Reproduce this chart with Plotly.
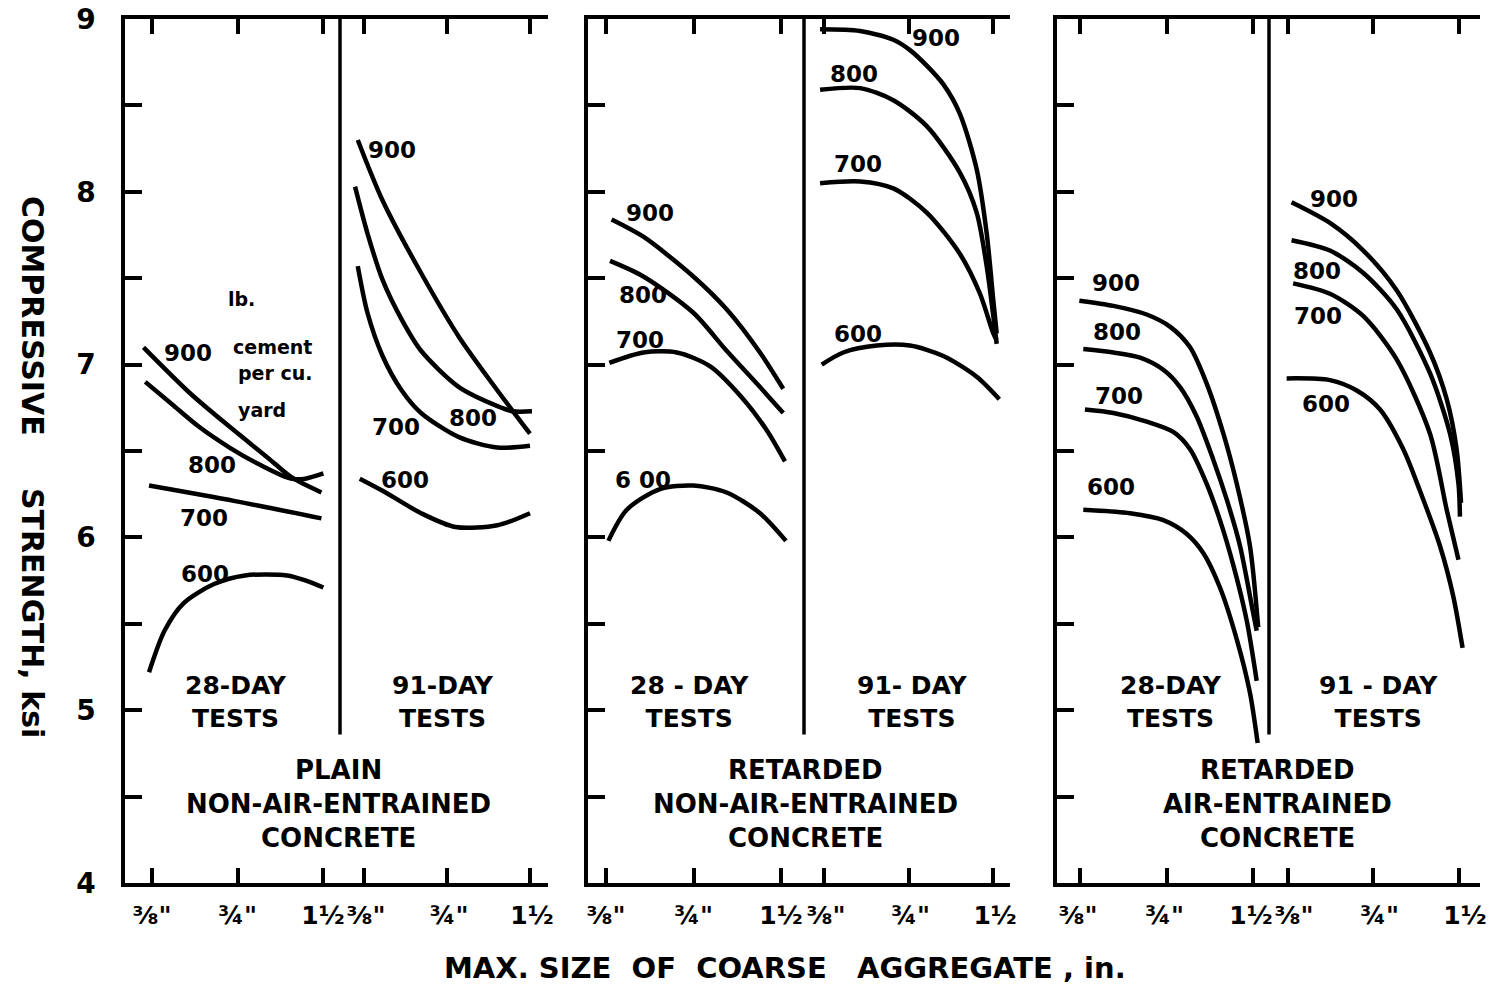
import math
import plotly.graph_objects as go

# ---- axis ticks -------------------------------------------------------
SIZE_TICKS = [0.375, 0.75, 1.5]
SIZE_TICK_TEXT = ['⅜"', '¾"', '1½']
KSI_TICKS = [4, 4.5, 5, 5.5, 6, 6.5, 7, 7.5, 8, 8.5, 9]
KSI_TICK_TEXT = ['4', '', '5', '', '6', '', '7', '', '8', '', '9']

# ---- plain non-air-entrained, 28-day ---------------------------------
plain28_900_x = [0.350, 0.514, 0.704, 0.961, 1.157, 1.481]
plain28_900_y = [7.10, 6.83, 6.64, 6.46, 6.35, 6.26]
plain28_800_x = [0.355, 0.441, 0.549, 0.703, 0.900, 1.157, 1.300, 1.505]
plain28_800_y = [6.90, 6.77, 6.64, 6.52, 6.42, 6.34, 6.34, 6.37]
plain28_700_x = [0.366, 0.735, 1.481]
plain28_700_y = [6.30, 6.21, 6.11]
plain28_600_x = [0.366, 0.415, 0.485, 0.620, 0.797, 1.120, 1.307, 1.505]
plain28_600_y = [5.22, 5.46, 5.62, 5.73, 5.78, 5.78, 5.75, 5.71]

# ---- plain non-air-entrained, 91-day ---------------------------------
plain91_900_x = [0.356, 0.438, 0.604, 0.829, 1.143, 1.500]
plain91_900_y = [8.30, 7.95, 7.53, 7.16, 6.85, 6.60]
plain91_800_x = [0.348, 0.386, 0.438, 0.514, 0.604, 0.829, 1.143, 1.300, 1.525]
plain91_800_y = [8.03, 7.76, 7.49, 7.26, 7.08, 6.87, 6.76, 6.73, 6.73]
plain91_700_x = [0.356, 0.386, 0.438, 0.514, 0.604, 0.829, 1.143, 1.500]
plain91_700_y = [7.57, 7.30, 7.05, 6.85, 6.72, 6.58, 6.52, 6.53]
plain91_600_x = [0.362, 0.438, 0.604, 0.805, 1.143, 1.500]
plain91_600_y = [6.34, 6.27, 6.14, 6.06, 6.07, 6.14]

# ---- retarded non-air-entrained, 28-day ------------------------------
retnon28_900_x = [0.392, 0.504, 0.749, 0.975, 1.270, 1.527]
retnon28_900_y = [7.84, 7.74, 7.51, 7.32, 7.07, 6.86]
retnon28_800_x = [0.387, 0.504, 0.749, 0.975, 1.270, 1.527]
retnon28_800_y = [7.60, 7.51, 7.30, 7.08, 6.87, 6.72]
retnon28_700_x = [0.385, 0.504, 0.657, 0.856, 1.113, 1.340, 1.548]
retnon28_700_y = [7.01, 7.07, 7.07, 6.99, 6.80, 6.62, 6.44]
retnon28_600_x = [0.382, 0.442, 0.575, 0.749, 0.975, 1.270, 1.560]
retnon28_600_y = [5.98, 6.16, 6.28, 6.30, 6.26, 6.14, 5.98]

# ---- retarded non-air-entrained, 91-day ------------------------------
retnon91_900_x = [0.363, 0.504, 0.662, 0.759, 0.871, 1.000, 1.144, 1.312, 1.424, 1.504, 1.546]
retnon91_900_y = [8.94, 8.93, 8.88, 8.82, 8.73, 8.62, 8.45, 8.13, 7.76, 7.37, 7.18]
retnon91_800_x = [0.363, 0.504, 0.662, 0.871, 1.144, 1.312, 1.424, 1.504, 1.546]
retnon91_800_y = [8.59, 8.60, 8.53, 8.38, 8.11, 7.88, 7.57, 7.28, 7.12]
retnon91_700_x = [0.363, 0.504, 0.662, 0.871, 1.144, 1.348, 1.504, 1.546]
retnon91_700_y = [8.05, 8.06, 8.02, 7.88, 7.64, 7.41, 7.18, 7.14]
retnon91_600_x = [0.368, 0.439, 0.578, 0.759, 0.998, 1.312, 1.580]
retnon91_600_y = [7.00, 7.07, 7.11, 7.11, 7.05, 6.93, 6.80]

# ---- retarded air-entrained, 28-day ----------------------------------
retair28_900_x = [0.373, 0.490, 0.640, 0.771, 0.906, 1.035, 1.183, 1.317, 1.464, 1.564]
retair28_900_y = [7.37, 7.34, 7.29, 7.22, 7.10, 6.89, 6.60, 6.31, 5.95, 5.48]
retair28_800_x = [0.385, 0.490, 0.607, 0.731, 0.836, 0.955, 1.091, 1.215, 1.352, 1.503, 1.545]
retair28_800_y = [7.09, 7.07, 7.04, 6.97, 6.87, 6.70, 6.45, 6.22, 5.95, 5.56, 5.46]
retair28_700_x = [0.390, 0.490, 0.640, 0.792, 0.906, 1.035, 1.151, 1.281, 1.426, 1.545]
retair28_700_y = [6.74, 6.72, 6.67, 6.61, 6.51, 6.31, 6.10, 5.84, 5.52, 5.17]
retair28_600_x = [0.385, 0.560, 0.731, 0.882, 1.007, 1.151, 1.317, 1.464, 1.557]
retair28_600_y = [6.16, 6.14, 6.10, 6.02, 5.91, 5.71, 5.41, 5.10, 4.81]

# ---- retarded air-entrained, 91-day ----------------------------------
retair91_900_x = [0.386, 0.527, 0.691, 0.905, 1.186, 1.358, 1.472, 1.525]
retair91_900_y = [7.94, 7.82, 7.66, 7.43, 7.07, 6.80, 6.51, 6.20]
retair91_800_x = [0.386, 0.527, 0.691, 0.905, 1.186, 1.395, 1.494, 1.512]
retair91_800_y = [7.72, 7.66, 7.53, 7.32, 6.95, 6.60, 6.31, 6.12]
retair91_700_x = [0.391, 0.527, 0.691, 0.905, 1.186, 1.358, 1.494]
retair91_700_y = [7.47, 7.41, 7.28, 7.03, 6.60, 6.16, 5.87]
retair91_600_x = [0.371, 0.527, 0.655, 0.791, 0.955, 1.093, 1.286, 1.432, 1.545]
retair91_600_y = [6.92, 6.91, 6.85, 6.74, 6.51, 6.27, 5.95, 5.66, 5.36]

# ---- curve labels: (half, text, size in., strength ksi) ---------------
CURVE_LABELS = [
    (0, '900', 0.502, 7.07), (0, '800', 0.610, 6.42), (0, '700', 0.572, 6.11), (0, '600', 0.576, 5.79),
    (1, '900', 0.474, 8.24), (1, '800', 0.932, 6.69), (1, '700', 0.490, 6.64), (1, '600', 0.528, 6.33),
    (2, '900', 0.531, 7.88), (2, '800', 0.503, 7.40), (2, '700', 0.491, 7.14), (2, '6 00', 0.503, 6.33),
    (3, '900', 0.940, 8.89), (3, '800', 0.480, 8.68), (3, '700', 0.495, 8.16), (3, '600', 0.495, 7.18),
    (4, '900', 0.500, 7.47), (4, '800', 0.504, 7.19), (4, '700', 0.513, 6.82), (4, '600', 0.481, 6.29),
    (5, '900', 0.544, 7.96), (5, '800', 0.474, 7.54), (5, '700', 0.478, 7.28), (5, '600', 0.510, 6.77),
]
UNIT_NOTE = [('lb.', 0.775, 7.38), ('cement', 1.000, 7.10), ('per cu.', 1.017, 6.95), ('yard', 0.915, 6.74)]

AGE_TEXT = ['28-DAY<br>TESTS', '91-DAY<br>TESTS', '28 - DAY<br>TESTS',
            '91- DAY<br>TESTS', '28-DAY<br>TESTS', '91 - DAY<br>TESTS']
CONCRETE_TEXT = [['PLAIN', 'NON-AIR-ENTRAINED', 'CONCRETE'],
                 ['RETARDED', 'NON-AIR-ENTRAINED', 'CONCRETE'],
                 ['RETARDED', 'AIR-ENTRAINED', 'CONCRETE']]

HALVES = [
    [(plain28_900_x, plain28_900_y), (plain28_800_x, plain28_800_y),
     (plain28_700_x, plain28_700_y), (plain28_600_x, plain28_600_y)],
    [(plain91_900_x, plain91_900_y), (plain91_800_x, plain91_800_y),
     (plain91_700_x, plain91_700_y), (plain91_600_x, plain91_600_y)],
    [(retnon28_900_x, retnon28_900_y), (retnon28_800_x, retnon28_800_y),
     (retnon28_700_x, retnon28_700_y), (retnon28_600_x, retnon28_600_y)],
    [(retnon91_900_x, retnon91_900_y), (retnon91_800_x, retnon91_800_y),
     (retnon91_700_x, retnon91_700_y), (retnon91_600_x, retnon91_600_y)],
    [(retair28_900_x, retair28_900_y), (retair28_800_x, retair28_800_y),
     (retair28_700_x, retair28_700_y), (retair28_600_x, retair28_600_y)],
    [(retair91_900_x, retair91_900_y), (retair91_800_x, retair91_800_y),
     (retair91_700_x, retair91_700_y), (retair91_600_x, retair91_600_y)],
]

# ---- layout geometry --------------------------------------------------
W, H = 1499, 992
ML, MR, MT, MB = 125, 19, 19, 109
PW = W - ML - MR
PH = H - MT - MB
# pixel edges of each half-panel
HALF_EDGES = [(125, 340), (340, 548), (588, 804), (804, 1010), (1057, 1269), (1269, 1480)]
# visible extent of each half in octaves from the 3/8 in. tick
HALF_OCT = [(-0.316, 2.199), (-0.289, 2.217), (-0.206, 2.263),
            (-0.237, 2.201), (-0.266, 2.185), (-0.222, 2.246)]
# small sideways nudge of the size labels where two halves meet
LABEL_SHIFT = [0, 2, 0, 2, -2, 6]
AGE_X = [0.516, 0.495, 0.472, 0.529, 0.538, 0.517]
CONCRETE_X = [338, 805, 1277]
CONCRETE_Y = [4.654, 4.457, 4.26]

FONT = 'DejaVu Sans'
INK = 'black'
L38 = math.log10(0.375)
L2 = math.log10(2)


def dom(px0, px1):
    return [(px0 - ML) / PW, (px1 - ML) / PW]


def bold(size):
    return dict(family=FONT, size=size, color=INK, weight='bold')


fig = go.Figure()
for i, curves in enumerate(HALVES):
    xa = 'x' if i == 0 else f'x{i + 1}'
    ya = 'y' if i < 2 else f'y{i // 2 + 1}'
    for cx, cy in curves:
        fig.add_trace(go.Scatter(x=cx, y=cy, xaxis=xa, yaxis=ya, mode='lines',
                                 line=dict(color=INK, width=4.5, shape='spline', smoothing=0.8),
                                 hoverinfo='skip', showlegend=False))

layout = dict(width=W, height=H, margin=dict(l=ML, r=MR, t=MT, b=MB, autoexpand=False),
              paper_bgcolor='white', plot_bgcolor='white', showlegend=False,
              font=bold(22))

axis_common = dict(showgrid=False, zeroline=False, showline=True, linecolor=INK,
                   linewidth=3.5, ticks='inside', tickcolor=INK, tickwidth=3.5,
                   automargin=False)

for i in range(6):
    key = 'xaxis' if i == 0 else f'xaxis{i + 1}'
    ya = 'y' if i < 2 else f'y{i // 2 + 1}'
    o0, o1 = HALF_OCT[i]
    layout[key] = dict(axis_common, type='log', domain=dom(*HALF_EDGES[i]), anchor=ya,
                       range=[L38 + o0 * L2, L38 + o1 * L2], mirror='ticks', ticklen=15,
                       tickmode='array', tickvals=SIZE_TICKS, ticktext=SIZE_TICK_TEXT,
                       tickfont=bold(25), ticklabelstandoff=7,
                       ticklabelshift=LABEL_SHIFT[i])

for p in range(3):
    left = 'yaxis' if p == 0 else f'yaxis{p + 1}'
    layout[left] = dict(axis_common, range=[4, 9], domain=[0, 1],
                        anchor='x' if p == 0 else f'x{2 * p + 1}', side='left', ticklen=17,
                        tickmode='array', tickvals=KSI_TICKS, ticktext=KSI_TICK_TEXT,
                        showticklabels=(p == 0), ticklabelstandoff=20, tickfont=bold(28))
    layout[f'yaxis{p + 4}'] = dict(axis_common, range=[4, 9], domain=[0, 1],
                                   overlaying='y' if p == 0 else f'y{p + 1}',
                                   anchor=f'x{2 * p + 2}', side='right', ticklen=17,
                                   tickmode='array', tickvals=KSI_TICKS, showticklabels=False)

shapes = []
annotations = []
for p in range(3):
    ya = 'y' if p == 0 else f'y{p + 1}'
    # divider between the 28-day and 91-day halves
    shapes.append(dict(type='line', xref=f'x{2 * p + 2} domain', yref=ya,
                       x0=0, x1=0, y0=4.86, y1=9, line=dict(color=INK, width=3.5)))
    for line_txt, ly in zip(CONCRETE_TEXT[p], CONCRETE_Y):
        annotations.append(dict(text=line_txt, xref='paper', yref=ya,
                                x=(CONCRETE_X[p] - ML) / PW, y=ly, showarrow=False,
                                xanchor='center', yanchor='middle', font=bold(26)))

for i in range(6):
    xa = 'x' if i == 0 else f'x{i + 1}'
    ya = 'y' if i < 2 else f'y{i // 2 + 1}'
    annotations.append(dict(text=AGE_TEXT[i], xref=f'{xa} domain', yref=ya,
                            x=AGE_X[i], y=5.05, showarrow=False,
                            xanchor='center', yanchor='middle', font=bold(25)))

for half, txt, sx, sy in CURVE_LABELS:
    xa = 'x' if half == 0 else f'x{half + 1}'
    ya = 'y' if half < 2 else f'y{half // 2 + 1}'
    annotations.append(dict(text=txt, xref=xa, yref=ya, x=math.log10(sx), y=sy,
                            showarrow=False, xanchor='center', yanchor='middle',
                            font=bold(23)))

for txt, sx, sy in UNIT_NOTE:
    annotations.append(dict(text=txt, xref='x', yref='y', x=math.log10(sx), y=sy,
                            showarrow=False, xanchor='center', yanchor='middle',
                            font=bold(19)))

annotations.append(dict(text='COMPRESSIVE     STRENGTH, ksi', xref='paper', yref='paper',
                        x=(33 - ML) / PW, y=(H - MB - 467) / PH, textangle=90,
                        showarrow=False, xanchor='center', yanchor='middle', font=bold(30)))
annotations.append(dict(text='MAX. SIZE  OF  COARSE   AGGREGATE , in.', xref='paper',
                        yref='paper', x=(785 - ML) / PW, y=(H - MB - 968) / PH,
                        showarrow=False, xanchor='center', yanchor='middle', font=bold(29)))

layout['shapes'] = shapes
layout['annotations'] = annotations
fig.update_layout(**layout)
fig.write_html('out.html')
